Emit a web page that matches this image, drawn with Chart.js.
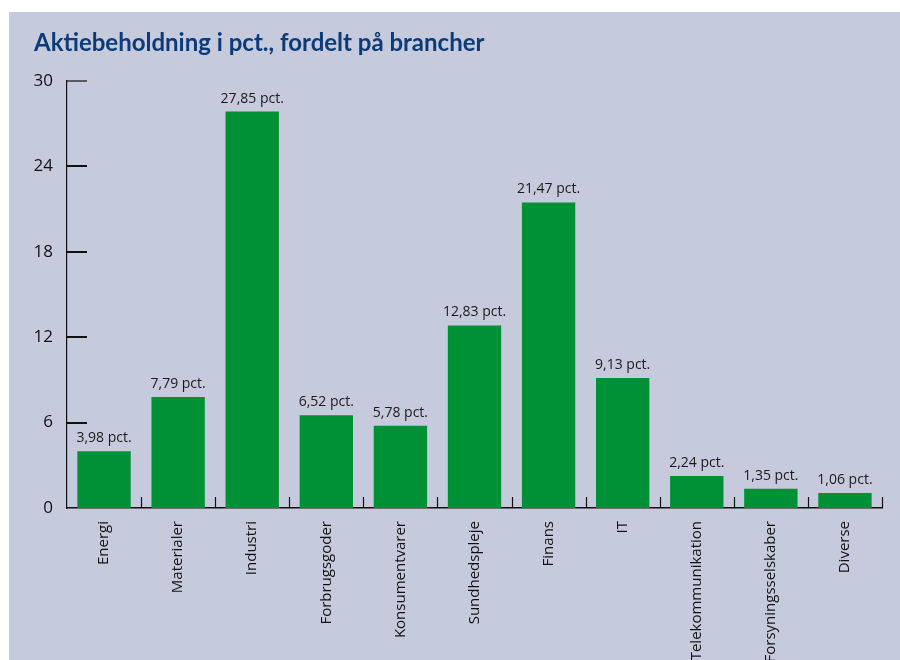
<!DOCTYPE html>
<html>
<head>
<meta charset="utf-8">
<script src="https://cdn.jsdelivr.net/npm/chart.js@4/dist/chart.umd.min.js"></script>
<style>
  html, body { margin: 0; padding: 0; background: #fff; }
  #panel { position: absolute; left: 9px; top: 12px; width: 891px; height: 648px; background: #c6cadd; overflow: hidden; }
  canvas { display: block; }
</style>
</head>
<body>
<div id="panel"><canvas id="branche-chart" width="891" height="648"></canvas></div>
<script>
const titleText = 'Aktiebeholdning i pct., fordelt på brancher';
const categories = ['Energi', 'Materialer', 'Industri', 'Forbrugsgoder', 'Konsumentvarer', 'Sundhedspleje', 'Finans', 'IT', 'Telekommunikation', 'Forsyningsselskaber', 'Diverse'];
const shares = [3.98, 7.79, 27.85, 6.52, 5.78, 12.83, 21.47, 9.13, 2.24, 1.35, 1.06];
const yTicks = [0, 6, 12, 18, 24, 30];

const fmtPct = v => v.toFixed(2).replace('.', ',') + ' pct.';

// title, inside tick marks and value labels
const decorations = {
  id: 'decorations',
  afterDraw(chart) {
    const ctx = chart.ctx;
    const area = chart.chartArea;
    const x = chart.scales.x;
    const y = chart.scales.y;
    ctx.save();

    ctx.fillStyle = '#0c3b78';
    ctx.font = 'bold 24px Lato, "Open Sans", sans-serif';
    ctx.textAlign = 'left';
    ctx.textBaseline = 'middle';
    ctx.fillText(titleText, 25, 31);

    // y ticks point into the plot
    ctx.strokeStyle = '#111';
    yTicks.forEach(t => {
      const py = Math.round(y.getPixelForValue(t));
      if (t === 0) return;
      ctx.lineWidth = t === 30 ? 1.2 : 2;
      ctx.beginPath();
      ctx.moveTo(area.left, py);
      ctx.lineTo(area.left + 20, py);
      ctx.stroke();
    });

    // x ticks at the category boundaries, pointing up
    ctx.lineWidth = 1.2;
    for (let i = 0; i < categories.length; i++) {
      const bx = i < categories.length - 1
        ? (x.getPixelForValue(i) + x.getPixelForValue(i + 1)) / 2
        : area.right;
      ctx.beginPath();
      ctx.moveTo(Math.round(bx) + 0.5, area.bottom);
      ctx.lineTo(Math.round(bx) + 0.5, area.bottom - 11);
      ctx.stroke();
    }

    // value labels above the bars
    ctx.fillStyle = '#1a1a1a';
    ctx.font = '14px "Open Sans", sans-serif';
    ctx.textAlign = 'center';
    ctx.textBaseline = 'bottom';
    chart.getDatasetMeta(0).data.forEach((bar, i) => {
      ctx.fillText(fmtPct(shares[i]), bar.x, bar.y - 6);
    });
    ctx.restore();
  }
};

new Chart(document.getElementById('branche-chart').getContext('2d'), {
  type: 'bar',
  data: {
    labels: categories,
    datasets: [{
      data: shares,
      backgroundColor: '#009035',
      barPercentage: 0.72,
      categoryPercentage: 1
    }]
  },
  options: {
    responsive: false,
    animation: false,
    layout: { padding: { top: 69, right: 18, left: 0, bottom: 0 } },
    plugins: { legend: { display: false }, tooltip: { enabled: false } },
    scales: {
      x: {
        grid: { display: false, drawTicks: false },
        border: { display: true, color: '#111', width: 1.5 },
        ticks: {
          color: '#111',
          font: { family: '"Open Sans", sans-serif', size: 15 },
          minRotation: 90,
          maxRotation: 90,
          autoSkip: false,
          padding: 13
        },
        afterFit: s => { s.height = 152; }
      },
      y: {
        min: 0,
        max: 30,
        grid: { display: false, drawTicks: false },
        border: { display: true, color: '#111', width: 1.2 },
        ticks: {
          stepSize: 6,
          color: '#111',
          font: { family: '"Open Sans", sans-serif', size: 17 },
          padding: 14
        },
        afterFit: s => { s.width = 58; }
      }
    }
  },
  plugins: [decorations]
});
</script>
</body>
</html>
